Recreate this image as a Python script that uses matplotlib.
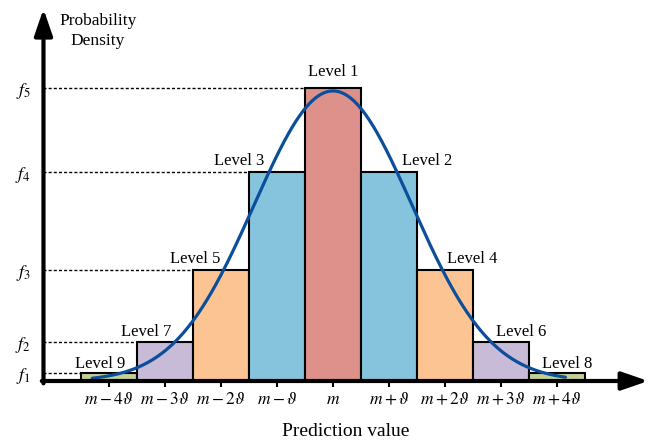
import numpy as np
import matplotlib
matplotlib.use("Agg")
import matplotlib.pyplot as plt

plt.rcParams['mathtext.fontset'] = 'stix'
plt.rcParams['font.family'] = ['Liberation Serif', 'DejaVu Serif']

# ---- data ----
levels = ['Level 9', 'Level 7', 'Level 5', 'Level 3', 'Level 1',
          'Level 2', 'Level 4', 'Level 6', 'Level 8']
positions = [-4, -3, -2, -1, 0, 1, 2, 3, 4]          # in units of theta around m
heights = [0.027, 0.133, 0.379, 0.713, 1.0, 0.713, 0.379, 0.133, 0.027]
bar_colors = ['#C3CF97', '#C8BBD7', '#FDC493', '#86C4DD', '#DD918A',
              '#86C4DD', '#FDC493', '#C8BBD7', '#C3CF97']
xtick_labels = [r'$m-4\vartheta$', r'$m-3\vartheta$', r'$m-2\vartheta$',
                r'$m-\vartheta$', r'$m$', r'$m+\vartheta$', r'$m+2\vartheta$',
                r'$m+3\vartheta$', r'$m+4\vartheta$']
f_values = [0.027, 0.133, 0.379, 0.713, 1.0]
f_labels = [r'$f_1$', r'$f_2$', r'$f_3$', r'$f_4$', r'$f_5$']
curve_peak = 0.99
curve_sigma = 1.41
curve_range = (-4.3, 4.15)

# ---- layout constants ----
label_dx = [-0.16, -0.34, -0.46, -0.68, 0.0, 0.68, 0.48, 0.36, 0.18]
label_gap = [4, 4, 5, 5, 9, 5, 5, 4, 4]   # points
yaxis_x = -5.17

fig = plt.figure(figsize=(6.66, 4.41), dpi=100)
ax = fig.add_axes([0, 0, 1, 1])
ax.set_xlim(-333 / 56, 333 / 56)
ax.set_ylim(-60 / 293, 381 / 293)

# bars
ax.bar(positions, heights, width=1.0, color=bar_colors, edgecolor='black',
       linewidth=1.5, zorder=2)

# dashed guides from y-axis to the left-side bars
for p, h in zip(positions[:5], heights[:5]):
    ax.plot([yaxis_x, p - 0.5], [h, h], color='black', lw=1.0,
            linestyle=(0, (2.2, 1.5)), zorder=1)

# level labels
for p, h, lab, dx, g in zip(positions, heights, levels, label_dx, label_gap):
    ax.annotate(lab, xy=(p + dx, h), xytext=(0, g), textcoords='offset points',
                ha='center', va='baseline', fontsize=12, zorder=5)

# gaussian curve
xs = np.linspace(curve_range[0], curve_range[1], 400)
ys = curve_peak * np.exp(-xs ** 2 / (2 * curve_sigma ** 2))
ax.plot(xs, ys, color='#0B4E9B', lw=2.3, zorder=4, solid_capstyle='round')

# axes arrows
ax.annotate('', xy=(5.63, 0), xytext=(yaxis_x - 0.03, 0),
            arrowprops=dict(arrowstyle='-|>,head_length=16,head_width=5.5',
                            mutation_scale=1, lw=3, color='black',
                            shrinkA=0, shrinkB=0), zorder=6)
ax.annotate('', xy=(yaxis_x, 1.27), xytext=(yaxis_x, -0.008),
            arrowprops=dict(arrowstyle='-|>,head_length=16,head_width=5.5',
                            mutation_scale=1, lw=3, color='black',
                            shrinkA=0, shrinkB=0), zorder=6)

# ticks
for s in ['top', 'right']:
    ax.spines[s].set_visible(False)
ax.spines['bottom'].set_position(('data', 0))
ax.spines['left'].set_position(('data', yaxis_x))
ax.spines['bottom'].set_color('none')
ax.spines['left'].set_color('none')
ax.set_xticks(positions)
ax.set_xticklabels(xtick_labels, fontsize=12.5)
ax.tick_params(axis='x', direction='inout', length=9, width=1.5, pad=3.5)
ax.set_yticks(f_values)
ax.set_yticklabels(f_labels, fontsize=13)
ax.tick_params(axis='y', length=0, pad=9)

fig.text(98 / 666, 1 - 31 / 441, 'Probability\nDensity', ha='center',
         va='center', fontsize=12.5, linespacing=1.35)
fig.text(346 / 666, 1 - 432 / 441, 'Prediction value', ha='center',
         va='center', fontsize=14)

fig.savefig('out.png', dpi=100)
